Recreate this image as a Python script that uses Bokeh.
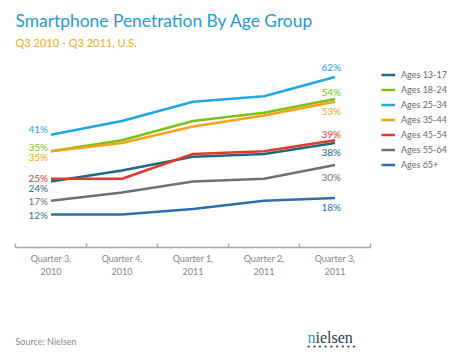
from bokeh.plotting import figure
from bokeh.models import (Range1d, LinearAxis, FixedTicker, Label, Legend, LegendItem,
                          ColumnDataSource)
from bokeh.embed import file_html
from bokeh.resources import INLINE

# ---- data ----
quarters = ["Quarter 3,\n2010", "Quarter 4,\n2010", "Quarter 1,\n2011",
            "Quarter 2,\n2011", "Quarter 3,\n2011"]
groups = ["Ages 13-17", "Ages 18-24", "Ages 25-34", "Ages 35-44",
          "Ages 45-54", "Ages 55-64", "Ages 65+"]
ages_13_17 = [24, 28, 33, 34, 38]
ages_18_24 = [35, 39, 46, 49, 54]
ages_25_34 = [41, 46, 53, 55, 62]
ages_35_44 = [35, 38, 44, 48, 53]
ages_45_54 = [25, 25, 34, 35, 39]
ages_55_64 = [17, 20, 24, 25, 30]
ages_65_up = [12, 12, 14, 17, 18]
series = [ages_13_17, ages_18_24, ages_25_34, ages_35_44, ages_45_54, ages_55_64, ages_65_up]

# ---- styles ----
colors = ["#1d6a7e", "#7cbf1b", "#22a5e3", "#f7a11a", "#e03a2d", "#707070", "#2e6fab"]
left_dy = [6, -4, -6, 6, -1, 0, 0]
right_dy = [9, -7, -10, 9.5, -6.5, 12, 9]
FONT = "Lato"

W, H = 450, 363
p = figure(width=W, height=H, output_backend="svg", toolbar_location=None,
           x_axis_type=None, y_axis_type=None, min_border=0,
           x_range=Range1d(-15 / 71, 435 / 71),
           y_range=Range1d((247 - 363) / 2.75, 247 / 2.75))
p.outline_line_color = None
p.xgrid.visible = False
p.ygrid.visible = False
p.background_fill_color = "white"
p.border_fill_color = "white"

xs = [i + 0.5 for i in range(len(quarters))]

# boundary axis (line + ticks)
ax1 = LinearAxis(fixed_location=0, ticker=FixedTicker(ticks=list(range(len(quarters) + 1))),
                 bounds=(0, len(quarters)))
ax1.axis_line_color = "#a8a8a8"
ax1.axis_line_width = 1.5
ax1.major_tick_line_color = "#a8a8a8"
ax1.major_tick_line_width = 1.5
ax1.major_tick_in = 4
ax1.major_tick_out = 0
ax1.minor_tick_line_color = None
ax1.major_label_text_font_size = "0px"
ax1.major_label_text_alpha = 0
p.add_layout(ax1, "below")

# label axis
ax2 = LinearAxis(fixed_location=0, ticker=FixedTicker(ticks=xs),
                 major_label_overrides={x: q for x, q in zip(xs, quarters)})
ax2.axis_line_color = None
ax2.major_tick_line_color = None
ax2.minor_tick_line_color = None
ax2.major_tick_out = 0
ax2.major_tick_in = 0
ax2.major_label_standoff = 5
ax2.major_label_text_font = FONT
ax2.major_label_text_font_size = "9px"
ax2.major_label_text_color = "#858585"
ax2.major_label_text_line_height = 1.25
p.add_layout(ax2, "below")

items = []
for name, vals, col in zip(groups, series, colors):
    r = p.line(xs, vals, line_color=col, line_width=2.5)
    items.append(LegendItem(label=name, renderers=[r]))

# end labels
left_src = ColumnDataSource(dict(x=[xs[0]] * len(series), y=[s[0] for s in series],
                                 t=[f"{s[0]}%" for s in series], c=colors, dy=left_dy))
p.text(x="x", y="y", text="t", text_color="c", y_offset="dy", x_offset=-3,
       text_align="right", text_baseline="middle", text_font_size="10px",
       text_font={"value": FONT}, source=left_src)
right_src = ColumnDataSource(dict(x=[xs[-1]] * len(series), y=[s[-1] for s in series],
                                  t=[f"{s[-1]}%" for s in series], c=colors, dy=right_dy))
p.text(x="x", y="y", text="t", text_color="c", y_offset="dy", x_offset=6,
       text_align="right", text_baseline="middle", text_font_size="10px",
       text_font={"value": FONT}, source=right_src)

legend = Legend(items=items, location=(381, 191.5), glyph_width=14, glyph_height=15,
                label_height=15, spacing=0, padding=0, margin=0, label_standoff=6,
                border_line_color=None, background_fill_alpha=0,
                label_text_font=FONT, label_text_font_size="9px",
                label_text_color="#6a6a6a")
p.add_layout(legend)

# titles and footer
p.add_layout(Label(x=15, y=343, x_units="screen", y_units="screen",
                   text="Smartphone Penetration By Age Group", text_font=FONT,
                   text_font_size="17.4px", text_color="#1f9bd7",
                   text_baseline="alphabetic"))
p.add_layout(Label(x=15, y=320.7, x_units="screen", y_units="screen",
                   text="Q3 2010 - Q3 2011, U.S.", text_font=FONT,
                   text_font_size="11px", text_color="#f5a623",
                   text_baseline="alphabetic"))
p.add_layout(Label(x=15, y=22.3, x_units="screen", y_units="screen",
                   text="Source: Nielsen", text_font=FONT,
                   text_font_size="9px", text_color="#8a8a8a",
                   text_baseline="alphabetic"))
p.add_layout(Label(x=307, y=26, x_units="screen", y_units="screen",
                   text="n", text_font="Liberation Serif",
                   text_font_size="16px", text_color="#1f9bd7",
                   text_baseline="alphabetic"))
p.add_layout(Label(x=315, y=26, x_units="screen", y_units="screen",
                   text="ielsen", text_font="Liberation Serif",
                   text_font_size="16px", text_color="#2d3a4a",
                   text_baseline="alphabetic"))
# logo dot row (decoration)
for i in range(9):
    p.add_layout(Label(x=308 + i * 5.7, y=16.5, x_units="screen", y_units="screen",
                       text="\u2022", text_font="DejaVu Sans", text_font_size="7px",
                       text_color="#333333", text_align="center",
                       text_baseline="alphabetic"))

open("out.html", "w").write(file_html(p, INLINE))
